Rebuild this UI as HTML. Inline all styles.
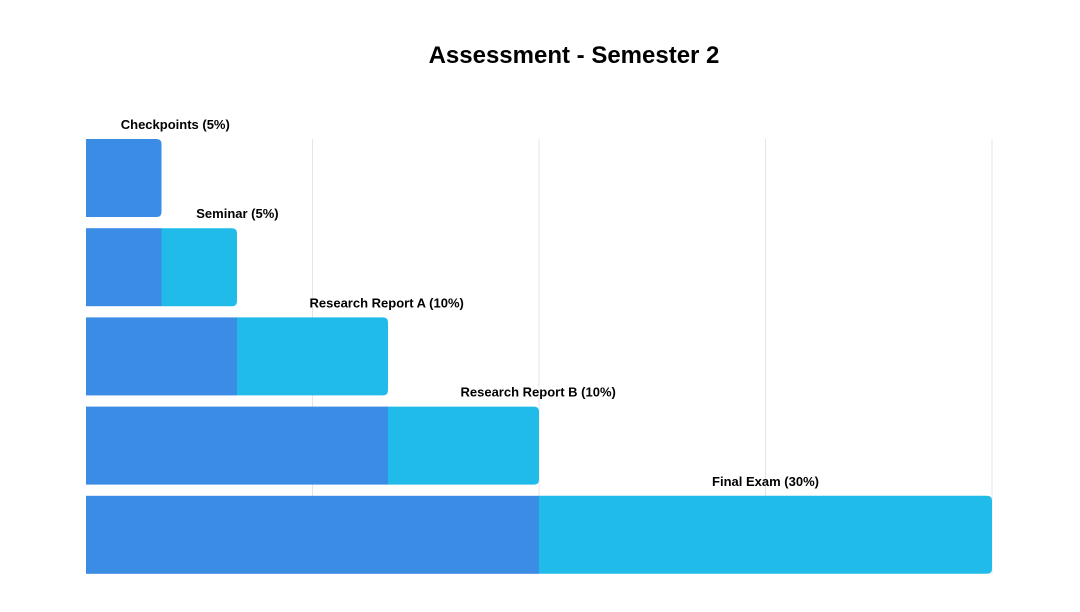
<!DOCTYPE html>
<html><head><meta charset="utf-8"><style>
body{margin:0;background:#fff;}
svg{display:block;font-family:"Liberation Sans",sans-serif;}
</style></head><body>
<svg id="chart" width="1080" height="612">
<text x="574" y="63" text-anchor="middle" font-size="24" font-weight="bold" fill="#000">Assessment - Semester 2</text>
<g id="grid"></g><g id="bars"></g><g id="labels"></g>
</svg>
<script>
const categories = ["Checkpoints (5%)", "Seminar (5%)", "Research Report A (10%)", "Research Report B (10%)", "Final Exam (30%)"];
const values = [5, 5, 10, 10, 30];
const gridTicks = [15, 30, 45, 60];
const ns = "http://www.w3.org/2000/svg";
const x0 = 86, x1 = 992, maxV = 60;
const xs = v => x0 + (x1 - x0) * v / maxV;
const rowTop = 139, rowStep = 89.2, barH = 78;
const ys = i => rowTop + i * rowStep;
function mk(tag, attrs, parent){const e=document.createElementNS(ns,tag);for(const k in attrs)e.setAttribute(k,attrs[k]);parent.appendChild(e);return e;}
const grid=document.getElementById('grid'), bars=document.getElementById('bars'), labels=document.getElementById('labels');
gridTicks.forEach(t=>{
  const l=mk('line',{x1:xs(t),x2:xs(t),y1:139,y2:574,stroke:'#e4e4e4','stroke-width':1},grid);
  
  
});
function rrect(x,y,w,h,r,fill,parent){
  const p=mk('path',{d:`M${x},${y}H${x+w-r}Q${x+w},${y} ${x+w},${y+r}V${y+h-r}Q${x+w},${y+h} ${x+w-r},${y+h}H${x}Z`,fill:fill},parent);
  return p;
}
let base=0;
values.forEach((v,i)=>{
  const y=ys(i);
  if(i===0){
    const b=rrect(xs(0),y,xs(v)-xs(0),barH,5,'#3a8ce4',bars);
    
    
  } else {
    const d=mk('rect',{x:xs(0),y:y,width:xs(base)-xs(0),height:barH,fill:'#3a8ce4'},bars);
    
    
    const b=rrect(xs(base),y,xs(base+v)-xs(base),barH,5,'#21bbea',bars);
    
    
  }
  const mid=xs(base+v/2);
  const big=v>=20;
  const t=mk('text',{x:big?mid:mid-3,y:y-10,'text-anchor':big?'middle':'start','font-size':13,'font-weight':'bold',fill:'#000'},labels);
  t.textContent=categories[i];
  
  
  base+=v;
});
</script>
</body></html>
